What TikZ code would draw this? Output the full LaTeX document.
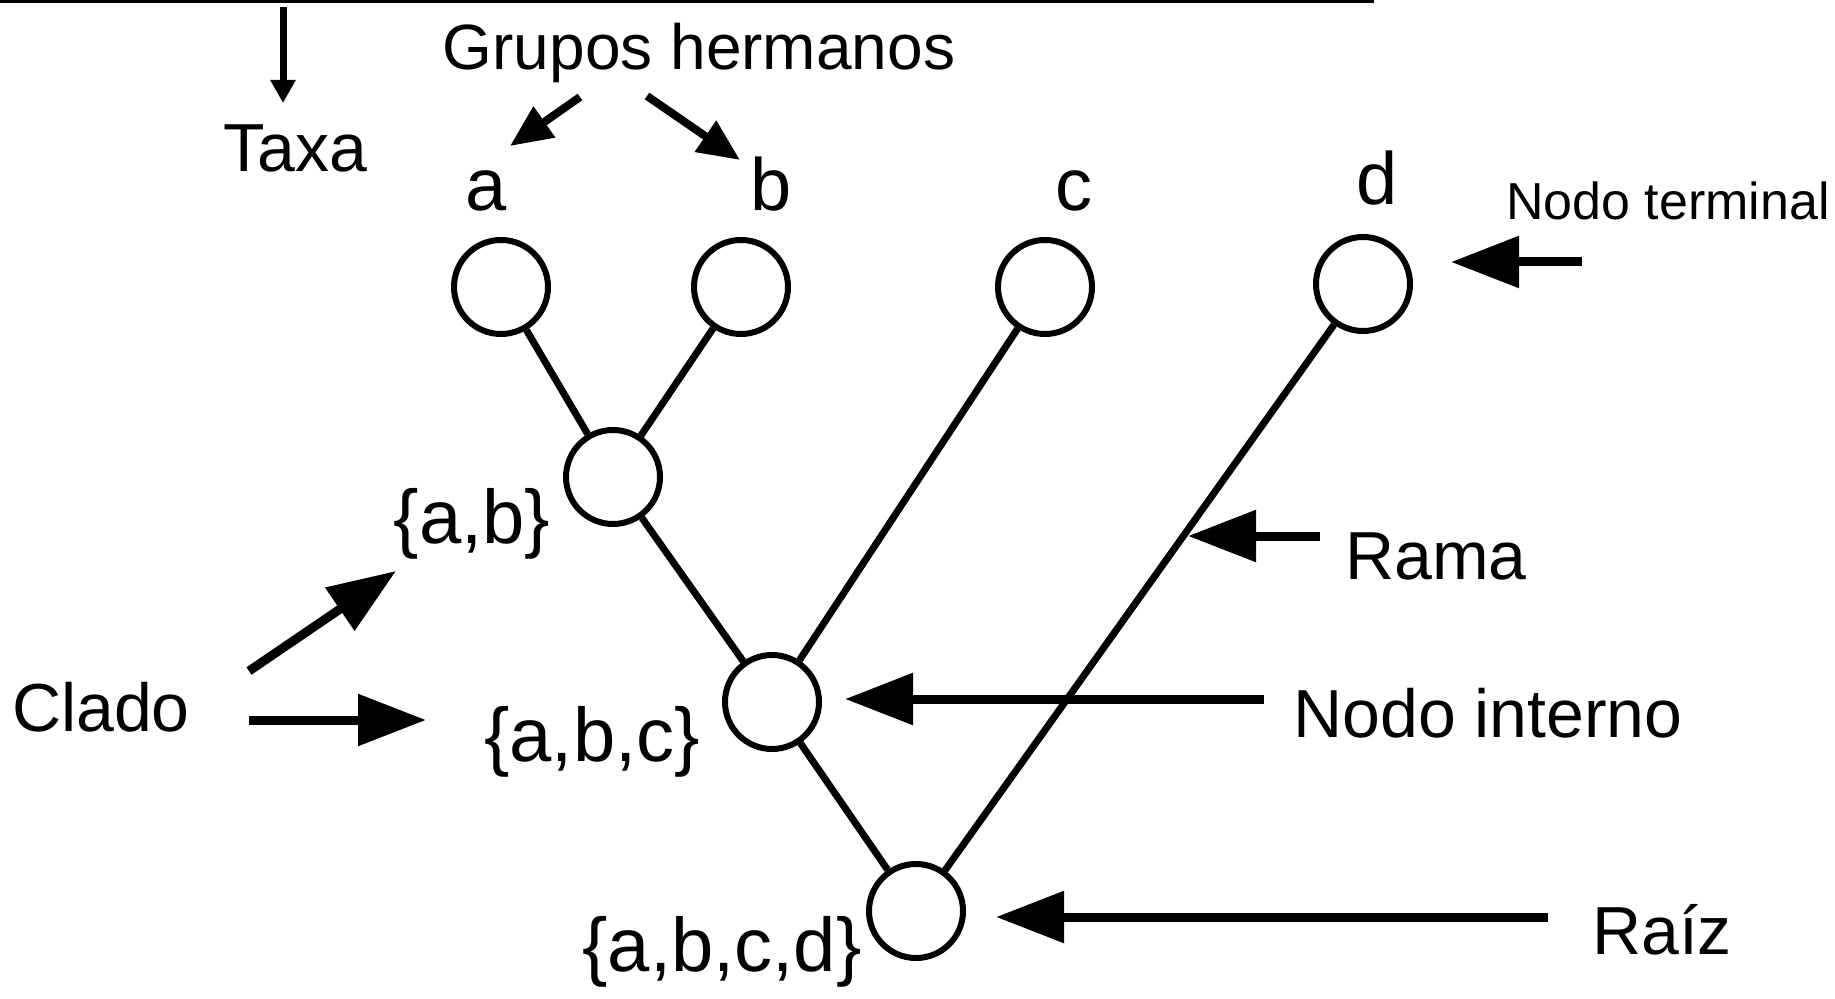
\documentclass[tikz,border=0pt]{standalone}
\usepackage{fontspec}
\setmainfont{Liberation Sans}
\usetikzlibrary{arrows.meta}

\begin{document}
\begin{tikzpicture}[
    x=0.5pt, y=-0.5pt,
    tree node/.style={
        circle, draw, fill=white,
        line width=3pt,
        minimum size=47pt,
        inner sep=0pt
    },
    branch/.style={line width=3.5pt},
    big arrow/.style={
        line width=4.5pt,
        -{Triangle[length=34pt, width=25pt]}
    },
    mid arrow/.style={
        line width=4pt,
        -{Triangle[length=21pt, width=18pt]}
    },
    thin arrow/.style={
        line width=3.5pt,
        -{Triangle[length=11.5pt, width=12pt]}
    },
    word/.style={anchor=base, inner sep=0pt, font=\fontsize{34}{40}\selectfont},
    set name/.style={word, font=\fontsize{38}{44}\selectfont},
    taxon name/.style={word, font=\fontsize{37}{44}\selectfont}
]
\useasboundingbox (0,0) rectangle (1835,999);

% the tree
\node [tree node] (a)    at (501,287) {};
\node [tree node] (b)    at (741,287) {};
\node [tree node] (c)    at (1045,287) {};
\node [tree node] (d)    at (1363,284) {};
\node [tree node] (ab)   at (613,477) {};
\node [tree node] (abc)  at (772,702) {};
\node [tree node] (root) at (916,911) {};

\draw [branch] (a) -- (ab);
\draw [branch] (b) -- (ab);
\draw [branch] (ab) -- (abc);
\draw [branch] (c) -- (abc);
\draw [branch] (abc) -- (root);
\draw [branch] (d) -- (root);

% names
\node [taxon name] (name a) at (486,211) {a};
\node [taxon name] (name b) at (771,211) {b};
\node [taxon name] (name c) at (1074,211) {c};
\node [taxon name] (name d) at (1377,205) {d};
\node [set name] (set ab)   at (472,544) {\{a,b\}};
\node [set name] (set abc)  at (592,761) {\{a,b,c\}};
\node [set name] (set abcd) at (722,971) {\{a,b,c,d\}};

\node [word] (taxa)     at (295,172) {Taxa};
\node [word, font=\fontsize{32}{38}\selectfont] (sisters) at (699,70) {Grupos hermanos};
\node [word, font=\fontsize{26}{31}\selectfont] (terminal) at (1668,220) {Nodo terminal};
\node [word] (clade)    at (101,731) {Clado};
\node [word] (branchtext) at (1436,579) {Rama};
\node [word] (internal) at (1488,737) {Nodo interno};
\node [word] (rootname) at (1662,954) {Raíz};

% pointers
\coordinate (rule left)  at (0,2);
\coordinate (rule right) at (1374,2);
\draw [line width=1.5pt] (rule left) -- (rule right);

\coordinate (taxa top) at (283,7);
\coordinate (taxa tip) at (283,103);
\draw [thin arrow] (taxa top) -- (taxa tip);

\coordinate (sis left from) at (580,97);
\coordinate (sis left to)   at (510,146);
\coordinate (sis right from) at (647,96);
\coordinate (sis right to)   at (740,160);
\draw [mid arrow] (sis left from) -- (sis left to);
\draw [mid arrow] (sis right from) -- (sis right to);

\coordinate (clade up from) at (249,671);
\coordinate (clade up to)   at (396,571);
\coordinate (clade from)    at (249,720);
\coordinate (clade to)      at (426,720);
\draw [big arrow] (clade up from) -- (clade up to);
\draw [big arrow] (clade from) -- (clade to);

\coordinate (terminal from) at (1582,262);
\coordinate (terminal to)   at (1451,262);
\draw [big arrow] (terminal from) -- (terminal to);

\coordinate (branch from) at (1320,536);
\coordinate (branch to)   at (1188,536);
\draw [big arrow] (branch from) -- (branch to);

\coordinate (internal from) at (1264,699);
\coordinate (internal to)   at (845,699);
\draw [big arrow] (internal from) -- (internal to);

\coordinate (root from) at (1548,917);
\coordinate (root to)   at (996,917);
\draw [big arrow] (root from) -- (root to);
\end{tikzpicture}
\end{document}
